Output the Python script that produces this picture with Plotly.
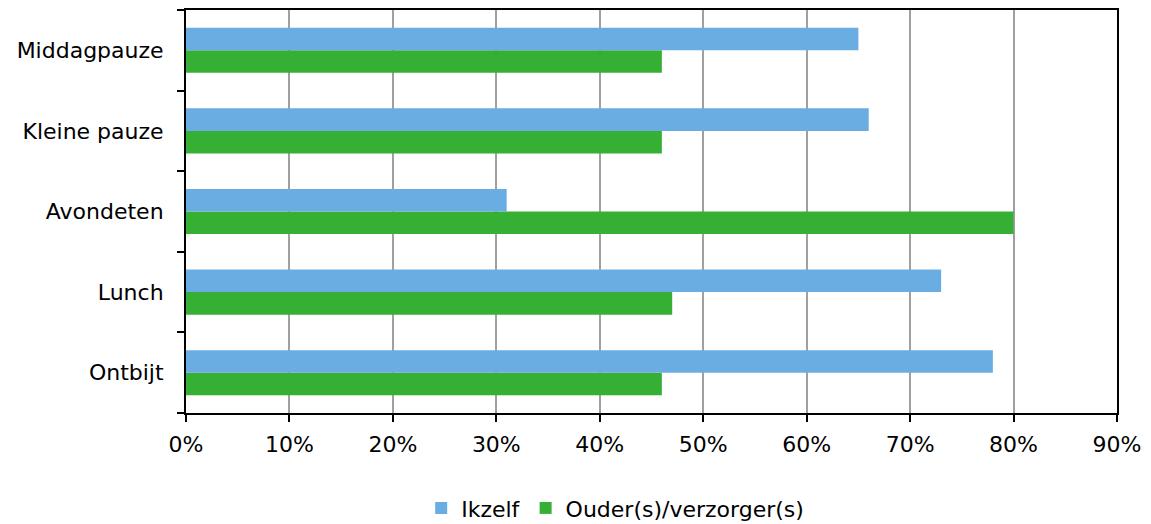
import plotly.graph_objects as go

categories = ["Ontbijt", "Lunch", "Avondeten", "Kleine pauze", "Middagpauze"]
ikzelf = [78, 73, 31, 66, 65]
ouders = [46, 47, 80, 46, 46]
x_ticks = [0, 10, 20, 30, 40, 50, 60, 70, 80, 90]
x_tick_labels = [f"{v}%" for v in x_ticks]

FONT = "DejaVu Sans"
FS = 22

fig = go.Figure()
fig.add_trace(go.Bar(
    y=categories, x=ouders, orientation="h", name="Ouder(s)/verzorger(s)",
    marker=dict(color="#35B035", line=dict(width=0)),
))
fig.add_trace(go.Bar(
    y=categories, x=ikzelf, orientation="h", name="Ikzelf",
    marker=dict(color="#6AADE3", line=dict(width=0)),
))

fig.update_layout(
    width=1151, height=524,
    margin=dict(l=186, r=34, t=10, b=111, autoexpand=False),
    paper_bgcolor="white", plot_bgcolor="white",
    barmode="group", bargap=0.44, bargroupgap=0,
    font=dict(family=FONT, size=FS, color="#000000"),
    legend=dict(
        orientation="h", traceorder="reversed",
        x=0.461, xanchor="center", y=-0.236, yanchor="middle",
        font=dict(family=FONT, size=FS), itemwidth=30,
    ),
    xaxis=dict(
        range=[0, 90], tickvals=x_ticks, ticktext=x_tick_labels,
        showgrid=True, gridcolor="#A0A0A0", gridwidth=2,
        showline=True, linecolor="#000000", linewidth=2, mirror=True,
        ticks="outside", ticklen=7, tickwidth=2, tickcolor="#000000",
        zeroline=False, tickfont=dict(size=FS), ticklabelstandoff=4,
        automargin=False,
    ),
    yaxis=dict(
        categoryorder="array", categoryarray=categories,
        tickson="boundaries",
        showline=True, linecolor="#000000", linewidth=2, mirror=True,
        ticks="outside", ticklen=7, tickwidth=2, tickcolor="#000000",
        showgrid=False, tickfont=dict(size=FS), ticklabelstandoff=16,
        automargin=False,
    ),
)

fig.write_html("out.html")
